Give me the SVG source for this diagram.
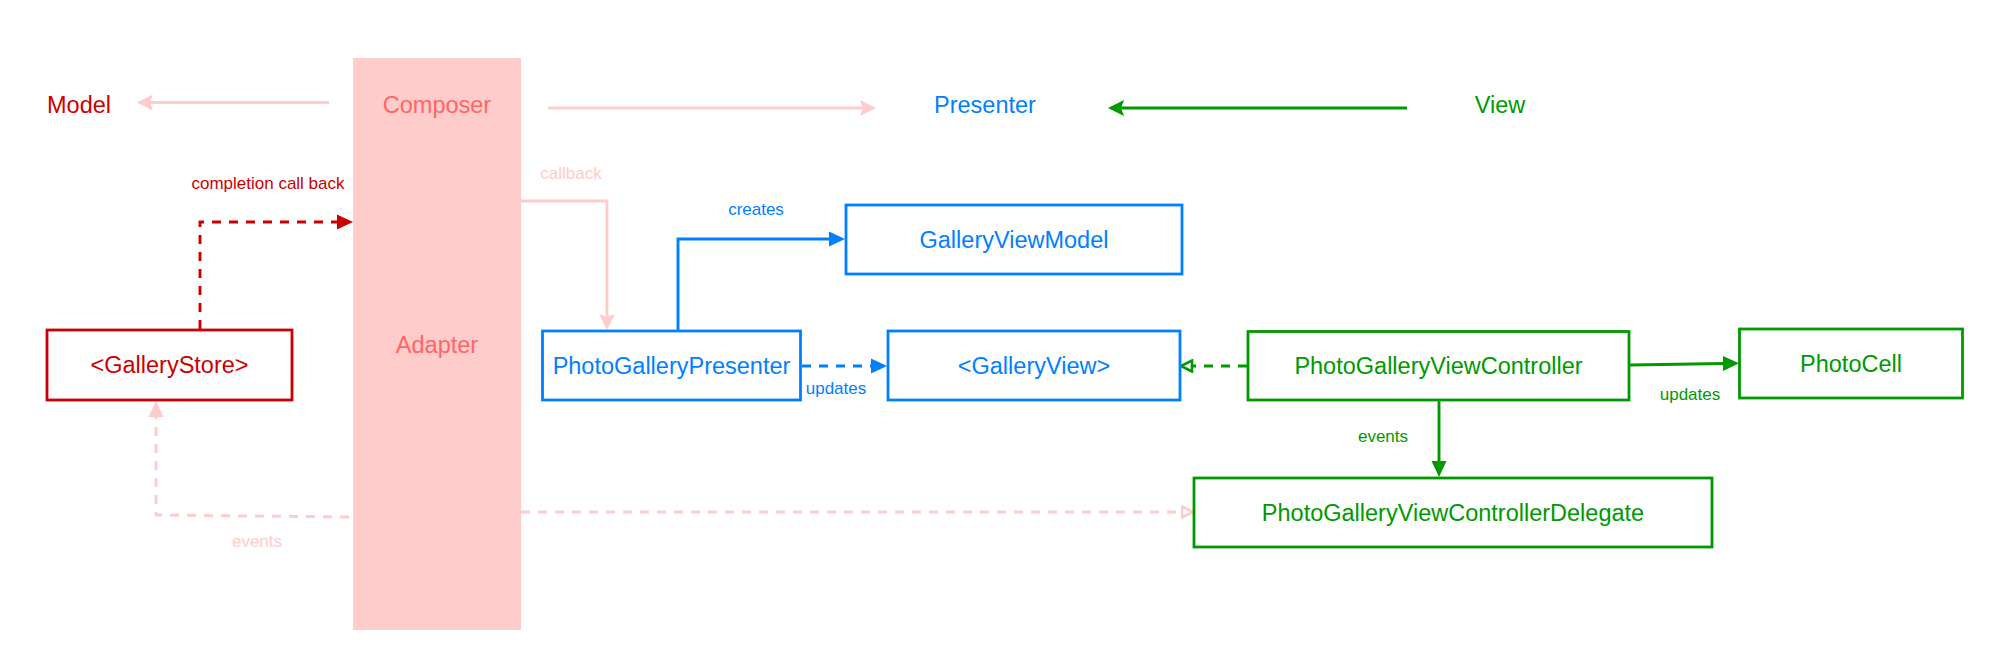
<svg xmlns="http://www.w3.org/2000/svg" width="1992" height="660" viewBox="0 0 1992 660">
<style>
text{font-family:"Liberation Sans",Arial,Helvetica,sans-serif;text-anchor:middle;dominant-baseline:central}
.big{font-size:23.5px}
.lbl{font-size:17px}
.red{fill:#CC0000}.blue{fill:#007FFF}.green{fill:#009900}.pink{fill:#FFCCCC}.coral{fill:#FF6666}
.box{fill:#FFFFFF;stroke-width:2.8}
.c{fill:none;stroke-width:2.9}
.dash{stroke-dasharray:9 8}
</style>
<defs>
<marker id="cls-pink" viewBox="0 0 16 16" refX="4" refY="8" markerWidth="16" markerHeight="16" markerUnits="userSpaceOnUse" orient="auto"><path d="M0,0 L16,8 L0,16 L3,8 Z" fill="#FFCCCC"/></marker>
<marker id="cls-green" viewBox="0 0 16 16" refX="4" refY="8" markerWidth="16" markerHeight="16" markerUnits="userSpaceOnUse" orient="auto"><path d="M0,0 L16,8 L0,16 L3,8 Z" fill="#009900"/></marker>
<marker id="blk-red" viewBox="0 0 16 16" refX="1" refY="8" markerWidth="16" markerHeight="16" markerUnits="userSpaceOnUse" orient="auto"><path d="M0,0.5 L16,8 L0,15.5 Z" fill="#CC0000"/></marker>
<marker id="blk-blue" viewBox="0 0 16 16" refX="1" refY="8" markerWidth="16" markerHeight="16" markerUnits="userSpaceOnUse" orient="auto"><path d="M0,0.5 L16,8 L0,15.5 Z" fill="#007FFF"/></marker>
<marker id="blk-green" viewBox="0 0 16 16" refX="1" refY="8" markerWidth="16" markerHeight="16" markerUnits="userSpaceOnUse" orient="auto"><path d="M0,0.5 L16,8 L0,15.5 Z" fill="#009900"/></marker>
<marker id="blk-pink" viewBox="0 0 16 16" refX="1" refY="8" markerWidth="16" markerHeight="16" markerUnits="userSpaceOnUse" orient="auto"><path d="M0,0.5 L16,8 L0,15.5 Z" fill="#FFCCCC"/></marker>
<marker id="open-green" viewBox="0 0 14 14" refX="1.5" refY="7" markerWidth="14" markerHeight="14" markerUnits="userSpaceOnUse" orient="auto"><path d="M1.5,1.5 L12.5,7 L1.5,12.5 Z" fill="#FFFFFF" stroke="#009900" stroke-width="2.6"/></marker>
<marker id="open-pink" viewBox="0 0 14 14" refX="1.5" refY="7" markerWidth="14" markerHeight="14" markerUnits="userSpaceOnUse" orient="auto"><path d="M1.5,1.5 L12.5,7 L1.5,12.5 Z" fill="#FFFFFF" stroke="#FFCCCC" stroke-width="2.6"/></marker>
</defs>
<rect width="1992" height="660" fill="#FFFFFF"/>

<g id="composer-adapter">
<rect x="353" y="58" width="168" height="572" fill="#FFCCCC"/>
<text class="big coral" x="437" y="105">Composer</text>
<text class="big coral" x="437" y="345">Adapter</text>
</g>

<g id="layer-titles">
<text class="big red" x="79" y="105">Model</text>
<text class="big blue" x="985" y="105">Presenter</text>
<text class="big green" x="1500" y="105">View</text>
</g>

<g id="connectors">
<path class="c" stroke="#FFCCCC" d="M329,102.5 L149,102.5" marker-end="url(#cls-pink)"/>
<path class="c" stroke="#FFCCCC" d="M548,108 L864,108" marker-end="url(#cls-pink)"/>
<path class="c" stroke="#009900" d="M1407,108 L1120,108" marker-end="url(#cls-green)"/>
<path class="c dash" stroke="#CC0000" d="M200,329 L200,222 L338,222" marker-end="url(#blk-red)"/>
<path class="c" stroke="#FFCCCC" d="M521,201 L607,201 L607,318" marker-end="url(#cls-pink)"/>
<path class="c" stroke="#007FFF" d="M678,330 L678,239 L830,239" marker-end="url(#blk-blue)"/>
<path class="c dash" stroke="#007FFF" d="M802,366 L872,366" marker-end="url(#blk-blue)"/>
<path class="c dash" stroke="#009900" d="M1247,366 L1192,366" marker-end="url(#open-green)"/>
<path class="c" stroke="#009900" d="M1630,365 L1724,363.5" marker-end="url(#blk-green)"/>
<path class="c" stroke="#009900" d="M1439,401 L1439,462" marker-end="url(#blk-green)"/>
<path class="c dash" stroke="#FFCCCC" d="M349,517 L156,515 L156,416" marker-end="url(#blk-pink)"/>
<path class="c dash" stroke="#FFCCCC" d="M521,512 L1182,512" marker-end="url(#open-pink)"/>
<text class="lbl red" x="268" y="183">completion call back</text>
<text class="lbl pink" x="571" y="173">callback</text>
<text class="lbl blue" x="756" y="209">creates</text>
<text class="lbl blue" x="836" y="388">updates</text>
<text class="lbl green" x="1383" y="436">events</text>
<text class="lbl green" x="1690" y="394">updates</text>
<text class="lbl pink" x="257" y="541">events</text>
</g>

<g id="GalleryStore">
<rect class="box" stroke="#CC0000" x="47" y="330" width="245" height="70"/>
<text class="big red" x="169.5" y="365">&lt;GalleryStore&gt;</text>
</g>
<g id="PhotoGalleryPresenter">
<rect class="box" stroke="#007FFF" x="542.5" y="331" width="258" height="69"/>
<text class="big blue" x="671.5" y="366">PhotoGalleryPresenter</text>
</g>
<g id="GalleryViewModel">
<rect class="box" stroke="#007FFF" x="846" y="205" width="336" height="69"/>
<text class="big blue" x="1014" y="240">GalleryViewModel</text>
</g>
<g id="GalleryView">
<rect class="box" stroke="#007FFF" x="888" y="331" width="292" height="69"/>
<text class="big blue" x="1034" y="366">&lt;GalleryView&gt;</text>
</g>
<g id="PhotoGalleryViewController">
<rect class="box" stroke="#009900" x="1248" y="331.5" width="381" height="68.5"/>
<text class="big green" x="1438.5" y="366">PhotoGalleryViewController</text>
</g>
<g id="PhotoCell">
<rect class="box" stroke="#009900" x="1739.5" y="329" width="223" height="69"/>
<text class="big green" x="1851" y="363.5">PhotoCell</text>
</g>
<g id="PhotoGalleryViewControllerDelegate">
<rect class="box" stroke="#009900" x="1194" y="478" width="518" height="69"/>
<text class="big green" x="1453" y="512.5">PhotoGalleryViewControllerDelegate</text>
</g>
</svg>
